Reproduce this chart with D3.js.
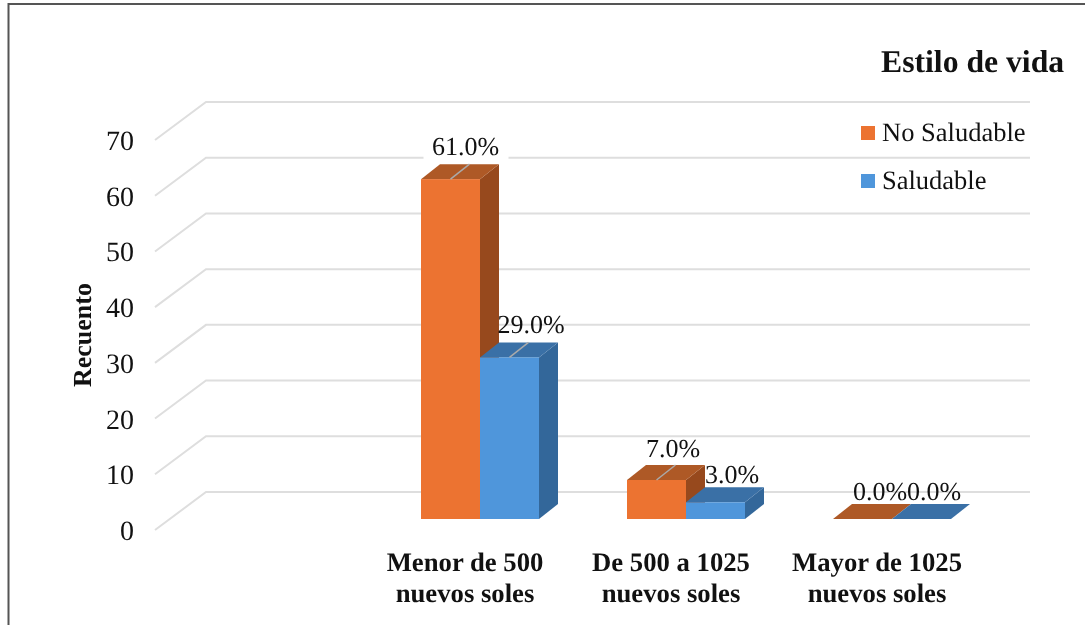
<!DOCTYPE html>
<html><head><meta charset="utf-8">
<script src="https://cdn.jsdelivr.net/npm/d3@7"></script>
<style>html,body{margin:0;padding:0;background:#fff;overflow:hidden}svg{display:block;filter:blur(0.45px)}text{font-family:"Liberation Serif",serif;fill:#111;text-rendering:geometricPrecision}</style>
</head><body><div id="c"></div>
<script>
const categories=[["Menor de 500","nuevos soles"],["De 500 a 1025","nuevos soles"],["Mayor de 1025","nuevos soles"]];
const seriesNames=["No Saludable","Saludable"];
const noSaludable=[61,7,0];
const saludable=[29,3,0];
const yTicks=[0,10,20,30,40,50,60,70];
const front=["#EC7331","#4F96DB"],side=["#97491D","#33679A"],top_=["#AE5926","#3A70A6"];

const W=1085,H=625;
const svg=d3.select("#c").append("svg").attr("width",W).attr("height",H);
svg.append("path").attr("d","M1085,4H8.5V625").attr("fill","none").attr("stroke","#555").attr("stroke-width",2);

const y=d3.scaleLinear().domain([0,70]).range([519,129]);
const x0=d3.scaleBand().domain([0,1,2]).range([377,995]);
const x1=d3.scaleBand().domain([0,1]).range([44,162]);

// 3D wall gridlines
const g=svg.append("g").attr("fill","none").attr("stroke","#DEDEDE").attr("stroke-width",2);
yTicks.forEach(t=>{
  g.append("path").attr("d",`M155,${y(t)+11}L206,${y(t)-27}H1030`);
});

// Axis labels
const ax=svg.append("g").attr("transform","translate(134,11)").call(d3.axisLeft(y).tickValues(yTicks).tickSize(0).tickPadding(0));
ax.select(".domain").remove();
ax.selectAll("text").style("font-family",'"Liberation Serif",serif').style("font-size","28px").attr("fill","#111").attr("dy","0.34em");

const series=[noSaludable,saludable];
const fmt=d3.format(".1f");
// label placement relative to each bar: [dx from front-face centre, dy from front-face top]
const labelDx=[[15,21.5],[16.5,16.5],[17.5,12.5]],labelDy=[[-24,-24],[-23,-19],[-19,-19]];
const labelX=(s,i)=>x0(i)+x1(s)+x1.bandwidth()/2+labelDx[i][s];
const labelY=(s,i)=>y(series[s][i])+labelDy[i][s];

// White label box interrupting the gridline for the tallest bar
svg.append("rect").attr("x",labelX(0,0)-42).attr("y",labelY(0,0)-24).attr("width",85).attr("height",33).attr("fill","#fff");

// Bars
const dx=19,dy=15;
categories.forEach((c,i)=>{
  [0,1].forEach(s=>{
    const v=series[s][i],xl=x0(i)+x1(s),w=x1.bandwidth(),yt=y(v),yb=y(0);
    const b=svg.append("g");
    b.append("path").attr("fill",side[s]).attr("d",`M${xl+w},${yt}L${xl+w+dx},${yt-dy}V${yb-dy}L${xl+w},${yb}Z`);
    b.append("path").attr("fill",top_[s]).attr("d",`M${xl},${yt}L${xl+dx},${yt-dy}H${xl+w+dx}L${xl+w},${yt}Z`);
    b.append("rect").attr("x",xl).attr("y",yt).attr("width",w).attr("height",yb-yt).attr("fill",front[s]);
    if(v>3) b.append("path").attr("stroke","#AAA").attr("stroke-width",1.5).attr("d",`M${xl+w/2},${yt}L${xl+w/2+dx},${yt-dy}`);
  });
});

// Data labels
series.forEach((arr,s)=>arr.forEach((v,i)=>{
  svg.append("text").attr("x",labelX(s,i)).attr("y",labelY(s,i)).attr("text-anchor","middle").style("font-size","26px").text(fmt(v)+"%");
}));

// Category labels
categories.forEach((c,i)=>{
  c.forEach((l,k)=>svg.append("text").attr("x",x0(i)+x0.bandwidth()/2-15).attr("y",570.5+k*31)
    .attr("text-anchor","middle").attr("font-weight","bold").style("font-size","26.7px").text(l));
});

// Axis title
svg.append("text").attr("transform","translate(91,335) rotate(-90)").attr("text-anchor","middle").attr("font-weight","bold").style("font-size","26px").text("Recuento");

// Legend
svg.append("text").attr("x",881).attr("y",72).attr("font-weight","bold").style("font-size","31.7px").text("Estilo de vida");
seriesNames.forEach((n,s)=>{
  const ly=126+s*48;
  svg.append("rect").attr("x",861).attr("y",ly).attr("width",14).attr("height",14).attr("fill",front[s]);
  svg.append("text").attr("x",882).attr("y",ly+15).style("font-size","26.5px").text(n);
});
</script></body></html>
